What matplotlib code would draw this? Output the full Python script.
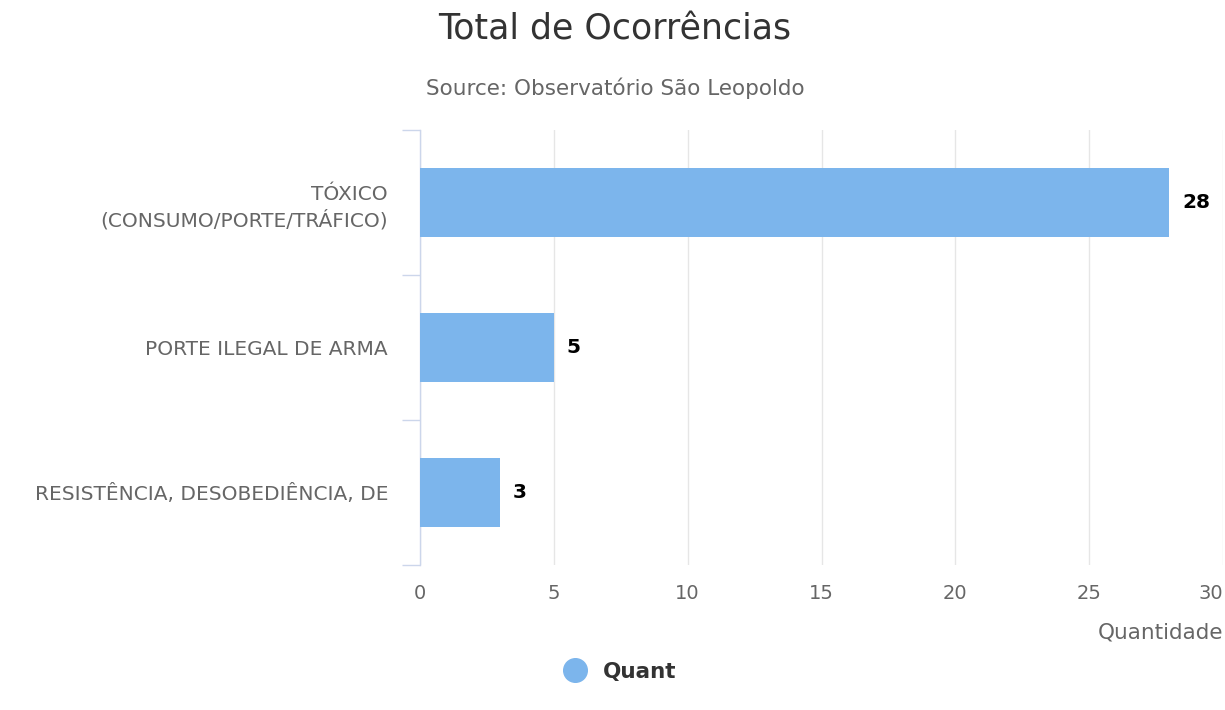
import matplotlib.pyplot as plt
from matplotlib.lines import Line2D
import numpy as np

categories = ["TÓXICO\n(CONSUMO/PORTE/TRÁFICO)", "PORTE ILEGAL DE ARMA",
              "RESISTÊNCIA, DESOBEDIÊNCIA, DE"]
values = [28, 5, 3]
x_ticks = [0, 5, 10, 15, 20, 25, 30]

BAR_COLOR = "#7cb5ec"
FONT = "DejaVu Sans"
plt.rcParams["font.family"] = FONT
plt.rcParams["font.sans-serif"] = [FONT]

fig = plt.figure(figsize=(12.25, 7.1), dpi=100)
ax = fig.add_axes([420 / 1225, 1 - 565 / 710, 803 / 1225, 435 / 710])

y = np.arange(len(categories))
ax.barh(y, values, height=0.47, color=BAR_COLOR, zorder=3)

# data labels next to the bars
for yi, v in zip(y, values):
    ax.annotate(str(v), (v, yi), xytext=(9, 0), textcoords="offset points",
                ha="left", va="center", fontsize=14.5, fontweight="bold",
                color="#000000", family=FONT)

ax.set_xlim(0, 30)
ax.set_ylim(2.5, -0.5)
ax.set_xticks(x_ticks)
ax.set_xticklabels([str(t) for t in x_ticks], family=FONT)
ax.tick_params(axis="x", length=0, pad=14, labelsize=14, labelcolor="#666666")
ax.get_xticklabels()[-1].set_ha("right")

ax.set_yticks(y)
ax.set_yticklabels(categories, fontsize=14.5, color="#666666", ha="right",
                   linespacing=1.35, family=FONT)
ax.set_yticks([-0.5, 0.5, 1.5, 2.5], minor=True)
ax.tick_params(axis="y", which="major", length=0, pad=23)
ax.tick_params(axis="y", which="minor", length=13, width=1, color="#ccd6eb")

ax.grid(axis="x", color="#e6e6e6", linewidth=1, zorder=0)
for s in ["top", "right", "bottom"]:
    ax.spines[s].set_visible(False)
ax.spines["left"].set_color("#ccd6eb")
ax.spines["left"].set_linewidth(1)

ax.set_xlabel("Quantidade", loc="right", fontsize=15.5, color="#666666",
              labelpad=14, family=FONT)

fig.text(0.502, 1 - 30 / 710, "Total de Ocorrências", ha="center", va="center",
         fontsize=25, color="#333333", family=FONT)
fig.text(0.502, 1 - 88 / 710, "Source: Observatório São Leopoldo",
         ha="center", va="center", fontsize=15.5, color="#666666", family=FONT)

handle = Line2D([], [], marker="o", linestyle="none", markersize=17,
                color=BAR_COLOR)
leg = fig.legend([handle], ["Quant"], loc="center", bbox_to_anchor=(0.502, 1 - 672 / 710),
                 frameon=False, handletextpad=0.3,
                 prop={"size": 15.5, "weight": "bold", "family": FONT})
for t in leg.get_texts():
    t.set_color("#333333")

fig.savefig("out.png", dpi=100)
